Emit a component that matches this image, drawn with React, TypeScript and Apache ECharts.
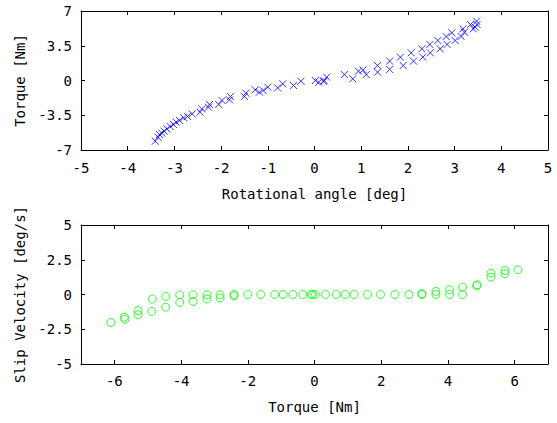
import React, { useEffect, useRef } from "react";
import * as echarts from "echarts";

// Top plot: rotational angle [deg] vs torque [Nm]
const angleX = [-3.41, -3.35, -3.32, -3.27, -3.22, -3.16, -3.09, -3.02, -2.96, -2.89, -2.8, -2.72, -2.62, -2.45, -2.41, -2.27, -2.25, -2.05, -1.98, -1.82, -1.8, -1.5, -1.47, -1.27, -1.18, -1.1, -1.0, -0.79, -0.68, -0.45, -0.29, 0.02, 0.09, 0.19, 0.21, 0.26, 0.64, 0.82, 0.94, 1.04, 1.11, 1.35, 1.35, 1.61, 1.61, 1.84, 1.9, 2.07, 2.12, 2.3, 2.32, 2.47, 2.48, 2.64, 2.69, 2.82, 2.84, 2.94, 3.01, 3.14, 3.18, 3.21, 3.34, 3.4, 3.44, 3.47, 3.48];
const torqueY = [-6.11, -5.71, -5.44, -5.3, -5.1, -4.87, -4.63, -4.43, -4.2, -4.03, -3.76, -3.62, -3.36, -3.19, -2.85, -2.69, -2.42, -2.42, -2.01, -1.95, -1.61, -1.61, -1.28, -0.94, -1.18, -1.01, -0.67, -0.74, -0.34, -0.5, -0.07, 0, -0.17, -0.07, -0.03, 0.34, 0.6, 0.17, 0.94, 1.07, 0.6, 1.51, 0.84, 1.95, 1.11, 2.35, 1.51, 2.79, 1.95, 3.19, 2.35, 3.63, 2.79, 4.03, 3.19, 4.43, 3.63, 4.8, 4.03, 4.43, 5.2, 4.87, 5.64, 5.2, 5.37, 5.97, 5.64];

// Bottom plot: torque [Nm] vs slip velocity [deg/s]
const torqueX = [-6.1, -5.7, -5.68, -5.29, -5.29, -4.86, -4.88, -4.46, -4.46, -4.04, -4.04, -3.64, -3.64, -3.22, -3.22, -2.83, -2.83, -2.41, -2.41, -2.0, -1.61, -1.19, -0.94, -0.65, -0.35, -0.1, -0.05, 0.03, 0.33, 0.65, 0.92, 1.19, 1.59, 1.98, 2.41, 2.83, 3.22, 3.22, 3.64, 3.64, 4.05, 4.05, 4.44, 4.44, 4.86, 4.88, 5.29, 5.29, 5.71, 5.71, 6.1];
const slipY = [-2.02, -1.63, -1.78, -1.15, -1.46, -0.33, -1.22, -0.14, -0.91, -0.02, -0.57, -0.02, -0.5, -0.02, -0.33, -0.02, -0.26, 0, -0.1, 0, 0, 0, 0, 0, 0, 0, 0, 0, 0, 0, 0, 0, 0, 0, 0, 0, 0, 0.06, 0, 0.22, 0, 0.34, 0, 0.53, 0.63, 0.7, 1.25, 1.54, 1.49, 1.73, 1.78];

const bottomXTicks = [-6, -4, -2, 0, 2, 4, 6];

const FONT = "'DejaVu Sans Mono', monospace";

export default function App() {
  const ref = useRef<HTMLDivElement>(null);
  useEffect(() => {
    if (!ref.current) return;
    const chart = echarts.init(ref.current, null, { renderer: "svg" });
    const line = { show: true, onZero: false, lineStyle: { color: "#000", width: 1 } };
    const tick = { show: true, inside: true, length: 4, lineStyle: { color: "#000" } };
    const label = { color: "#000", fontFamily: FONT, fontSize: 14 };
    const nameStyle = { color: "#000", fontFamily: FONT, fontSize: 14 };
    chart.setOption({
      animation: false,
      backgroundColor: "#fff",
      grid: [
        { left: 81, right: 9, top: 11, height: 139 },
        { left: 81, right: 9, top: 225, height: 139 },
      ],
      xAxis: [
        {
          gridIndex: 0, type: "value", min: -5, max: 5, interval: 1, position: "bottom",
          axisLine: line, axisTick: tick, splitLine: { show: false },
          axisLabel: { ...label, margin: 11 },
          name: "Rotational angle [deg]", nameLocation: "middle", nameGap: 37, nameTextStyle: nameStyle,
        },
        {
          gridIndex: 0, type: "value", min: -5, max: 5, interval: 1, position: "top",
          axisLine: line, axisTick: tick, splitLine: { show: false }, axisLabel: { show: false },
        },
        {
          gridIndex: 1, type: "value", min: -7, max: 7, position: "bottom",
          axisLine: line,
          axisTick: { ...tick, customValues: bottomXTicks },
          splitLine: { show: false },
          axisLabel: { ...label, margin: 10, customValues: bottomXTicks },
          name: "Torque [Nm]", nameLocation: "middle", nameGap: 36, nameTextStyle: nameStyle,
        },
        {
          gridIndex: 1, type: "value", min: -7, max: 7, position: "top",
          axisLine: line,
          axisTick: { ...tick, customValues: bottomXTicks },
          splitLine: { show: false },
          axisLabel: { show: false, customValues: bottomXTicks },
        },
      ],
      yAxis: [
        {
          gridIndex: 0, type: "value", min: -7, max: 7, interval: 3.5, position: "left",
          axisLine: line, axisTick: tick, splitLine: { show: false },
          axisLabel: { ...label, margin: 9 },
          name: "Torque [Nm]", nameLocation: "middle", nameGap: 52, nameTextStyle: nameStyle,
        },
        {
          gridIndex: 0, type: "value", min: -7, max: 7, interval: 3.5, position: "right",
          axisLine: line, axisTick: tick, splitLine: { show: false }, axisLabel: { show: false },
        },
        {
          gridIndex: 1, type: "value", min: -5, max: 5, interval: 2.5, position: "left",
          axisLine: line, axisTick: tick, splitLine: { show: false },
          axisLabel: { ...label, margin: 9 },
          name: "Slip Velocity [deg/s]", nameLocation: "middle", nameGap: 52, nameTextStyle: nameStyle,
        },
        {
          gridIndex: 1, type: "value", min: -5, max: 5, interval: 2.5, position: "right",
          axisLine: line, axisTick: tick, splitLine: { show: false }, axisLabel: { show: false },
        },
      ],
      series: [
        {
          type: "scatter", xAxisIndex: 0, yAxisIndex: 0,
          data: angleX.map((x, i) => [x, torqueY[i]]),
          symbol: "path://M0,0L10,10M10,0L0,10",
          symbolSize: 7,
          itemStyle: { color: "none", borderColor: "#0000ff", borderWidth: 1 },
          emphasis: { disabled: true },
        },
        {
          type: "scatter", xAxisIndex: 2, yAxisIndex: 2,
          data: torqueX.map((x, i) => [x, slipY[i]]),
          symbol: "circle",
          symbolSize: 8,
          itemStyle: { color: "none", borderColor: "#00ff00", borderWidth: 1 },
          emphasis: { disabled: true },
        },
      ],
    });
    return () => chart.dispose();
  }, []);
  return <div ref={ref} style={{ width: 557, height: 423, position: "absolute", left: 0, top: 0 }} />;
}
